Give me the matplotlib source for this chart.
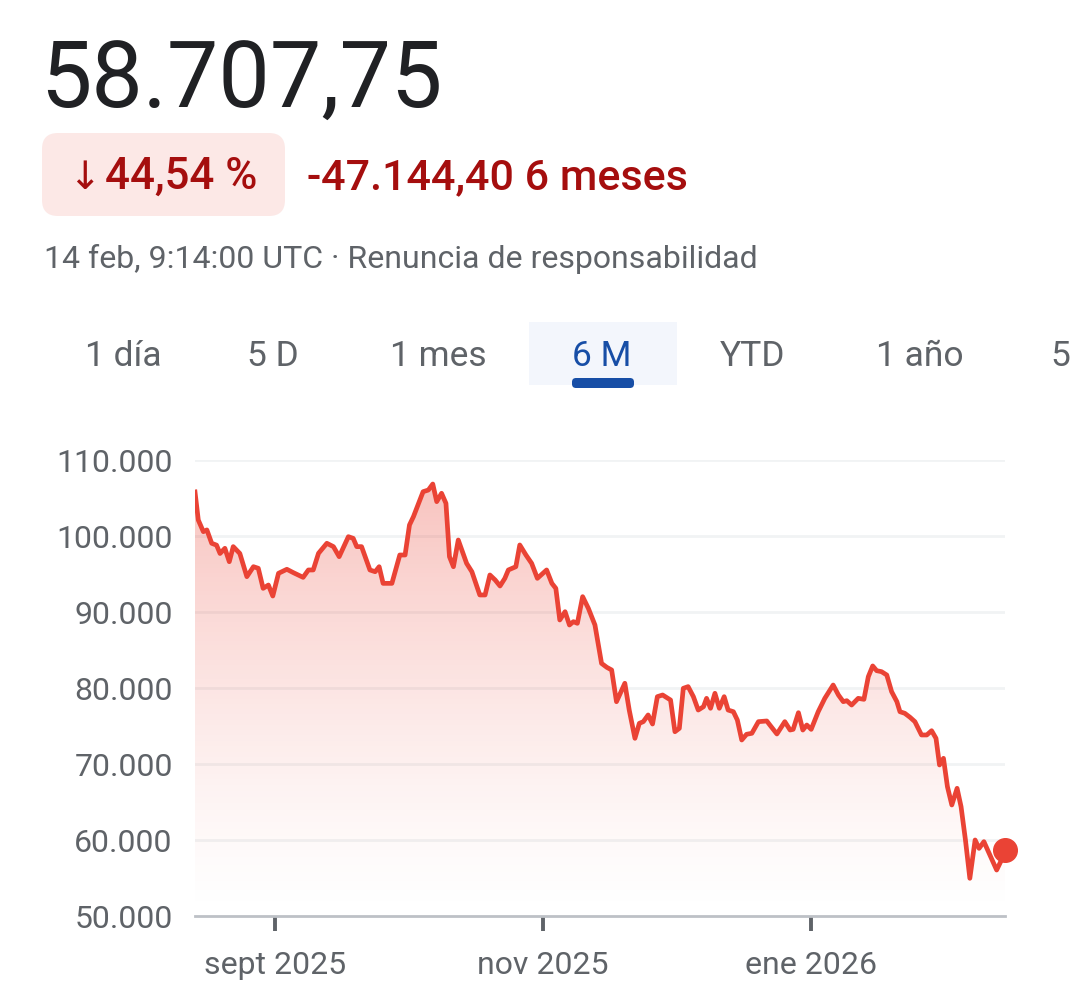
import numpy as np
import pandas as pd
import matplotlib
matplotlib.use('Agg')
import matplotlib.pyplot as plt
import matplotlib.dates as mdates
from matplotlib.patches import FancyBboxPatch, Rectangle

plt.rcParams['font.family'] = ['Roboto', 'DejaVu Sans']

# price series: days since start of window, price in EUR
start = pd.Timestamp('2025-08-13 19:00')
days = [0, 0.75, 1.9, 2.7, 3.8, 4.9, 5.7, 6.8, 7.8, 8.7, 10.2, 11.8, 13.3, 14.4, 15.5,
        16.7, 17.7, 19.0, 20.9, 22.4, 24.6, 25.8, 26.9, 28.1, 30.0, 31.5, 32.8, 34.9,
        36.0, 36.8, 37.9, 39.8, 41.0, 41.9, 42.8, 44.8, 46.6, 47.8, 48.8, 49.7, 51.9,
        53.1, 54.1, 55.0, 56.1, 57.1, 57.9, 58.8, 59.9, 61.8, 63.0, 64.8, 66.0, 67.1,
        68.3, 69.4, 70.5, 71.3, 73.0, 73.9, 75.3, 76.6, 77.9, 80.0, 81.2, 82.1, 83.0,
        84.2, 85.2, 86.1, 87.0, 88.2, 89.5, 91.0, 92.5, 93.7, 94.8, 95.9, 97.8, 98.8,
        100.1, 101.1, 102.0, 103.1, 104.1, 105.2, 106.4, 108.2, 109.2, 110.2, 111.1,
        112.2, 113.4, 114.5, 115.7, 116.4, 117.3, 118.3, 119.3, 120.4, 121.3, 122.5,
        123.4, 124.4, 125.5, 126.7, 128.2, 130.1, 130.8, 132.4, 134.2, 135.4, 136.1,
        137.3, 138.3, 139.2, 140.2, 141.8, 143.3, 145.2, 146.4, 147.5, 148.3, 149.4,
        150.9, 152.2, 153.2, 154.2, 155.1, 156.2, 157.4, 158.5, 159.7, 160.4, 161.5,
        162.7, 163.8, 165.3, 166.5, 167.6, 168.6, 169.4, 170.3, 171.2, 172.2, 173.4,
        174.3, 175.3, 176.3, 177.5, 178.4, 179.5, 180.7, 182.4, 183.5, 184.3]
prices = [105800, 102100, 100570, 100800, 99040, 98800, 97700, 98380, 96620, 98600,
          97700, 94650, 95960, 95750, 93110, 93550, 92100, 95090, 95620, 95170, 94560,
          95530, 95530, 97720, 99040, 98600, 97280, 99910, 99690, 98600, 98600, 95530,
          95300, 95960, 93770, 93770, 97500, 97500, 101450, 102540, 105830, 106050,
          106840, 104520, 105620, 104300, 97280, 95960, 99470, 96400, 95300, 92240,
          92240, 94870, 94210, 93420, 94430, 95530, 95960, 98820, 97500, 96400, 94430,
          95530, 93770, 93110, 88950, 90040, 88290, 88730, 88510, 92020, 90480, 88290,
          83240, 82720, 82370, 78200, 80620, 77100, 73380, 75350, 75570, 76450, 75260,
          78860, 79080, 78420, 74250, 74690, 79960, 80180, 78860, 77100, 77540, 78640,
          77330, 79300, 77330, 78860, 77100, 76880, 75790, 73160, 73910, 74040, 75570,
          75660, 75130, 73950, 75570, 74470, 74560, 76750, 74470, 75130, 74560, 76880,
          78640, 80390, 79080, 78200, 78330, 77760, 78640, 78510, 81490, 82900, 82280,
          82150, 81710, 79520, 78200, 76880, 76670, 76140, 75570, 73820, 73820, 74380,
          73380, 69870, 70750, 67020, 64610, 66800, 64390, 60000, 54960, 60000, 58900,
          59780, 58250, 56050, 57370, 58707.75]

yticks = [50000, 60000, 70000, 80000, 90000, 100000, 110000]
ytick_labels = ['50.000', '60.000', '70.000', '80.000', '90.000', '100.000', '110.000']
xtick_dates = ['2025-09-01', '2025-11-01', '2026-01-01']
xtick_labels = ['sept 2025', 'nov 2025', 'ene 2026']
tabs = ['1 día', '5 D', '1 mes', '6 M', 'YTD', '1 año', '5']
active_tab = '6 M'

RED = '#ea4335'
GREY = '#5f6368'

dates = start + pd.to_timedelta(days, unit='D')
x = mdates.date2num(dates.to_pydatetime())
y = np.array(prices)

fig = plt.figure(figsize=(10.8, 10.05), dpi=100)

# header overlay in pixel coordinates
hdr = fig.add_axes([0, 0, 1, 1])
hdr.set_xlim(0, 1080)
hdr.set_ylim(1005, 0)
hdr.axis('off')
hdr.text(40, 108, '58.707,75', fontsize=66, color='#202124', va='baseline')
hdr.add_patch(FancyBboxPatch((42, 133), 243, 83, boxstyle='round,pad=0,rounding_size=16',
                             fc='#fce8e6', ec='none'))
hdr.text(68, 189, '↓', fontsize=28, color='#a50e0e', va='baseline', family=['DejaVu Sans'])
hdr.text(105, 189, '44,54 %', fontsize=31.5, color='#a50e0e', va='baseline', fontweight='medium')
hdr.text(307, 189, '-47.144,40 6 meses', fontsize=31, color='#a50e0e', va='baseline',
         fontweight='medium')
hdr.text(44, 268, '14 feb, 9:14:00 UTC · Renuncia de responsabilidad', fontsize=23,
         color=GREY, va='baseline')

tab_x = [85, 247, 390, 572, 720, 876, 1050]
for tx, t in zip(tab_x, tabs):
    if t == active_tab:
        hdr.add_patch(Rectangle((529, 322), 148, 63, fc='#f3f6fc', ec='none'))
        hdr.add_patch(FancyBboxPatch((572, 378), 62, 10, boxstyle='round,pad=0,rounding_size=4',
                                     fc='#174ea6', ec='none'))
        hdr.text(tx, 366, t, fontsize=25.5, color='#174ea6', va='baseline')
    else:
        hdr.text(tx, 366, t, fontsize=25.5, color=GREY, va='baseline')

# chart
ax = fig.add_axes([195 / 1080, 1 - 916 / 1005, 810 / 1080, 456 / 1005])
ax.set_ylim(50000, 110000)
ax.set_xlim(x[0], x[-1])

# gradient fill under the line
ny = 300
fracs = np.linspace(0, 1, ny)[:, None]
alpha = 0.34 * fracs ** 1.3
grad = np.zeros((ny, 2, 4))
grad[..., 0], grad[..., 1], grad[..., 2] = 0.918, 0.263, 0.208
grad[..., 3] = alpha
poly = ax.fill_between(x, y, 50000, color='none')
im = ax.imshow(grad, extent=[x[0], x[-1], 50000, 110000], origin='lower', aspect='auto',
               zorder=1)
im.set_clip_path(poly.get_paths()[0], transform=ax.transData)

ax.plot(x, y, color=RED, lw=3.4, solid_joinstyle='round', zorder=3)
ax.plot(x[-1], y[-1], 'o', color=RED, ms=17, zorder=4, clip_on=False)

for v in yticks[1:]:
    ax.axhline(v, color='#f1f3f4', lw=2, zorder=0)
for s in ['top', 'right', 'left']:
    ax.spines[s].set_visible(False)
ax.spines['bottom'].set_color('#bdc1c6')
ax.spines['bottom'].set_linewidth(2)

ax.set_yticks(yticks)
ax.set_yticklabels(ytick_labels)
ax.set_xticks(mdates.date2num(pd.to_datetime(xtick_dates).to_pydatetime()))
ax.set_xticklabels(xtick_labels)
ax.tick_params(axis='y', length=0, pad=16, labelsize=23, labelcolor=GREY)
ax.tick_params(axis='x', length=11, width=2.8, color=GREY, pad=14, labelsize=23,
               labelcolor=GREY, direction='out')
ax.set_facecolor('none')

fig.savefig('out.png', dpi=100)
